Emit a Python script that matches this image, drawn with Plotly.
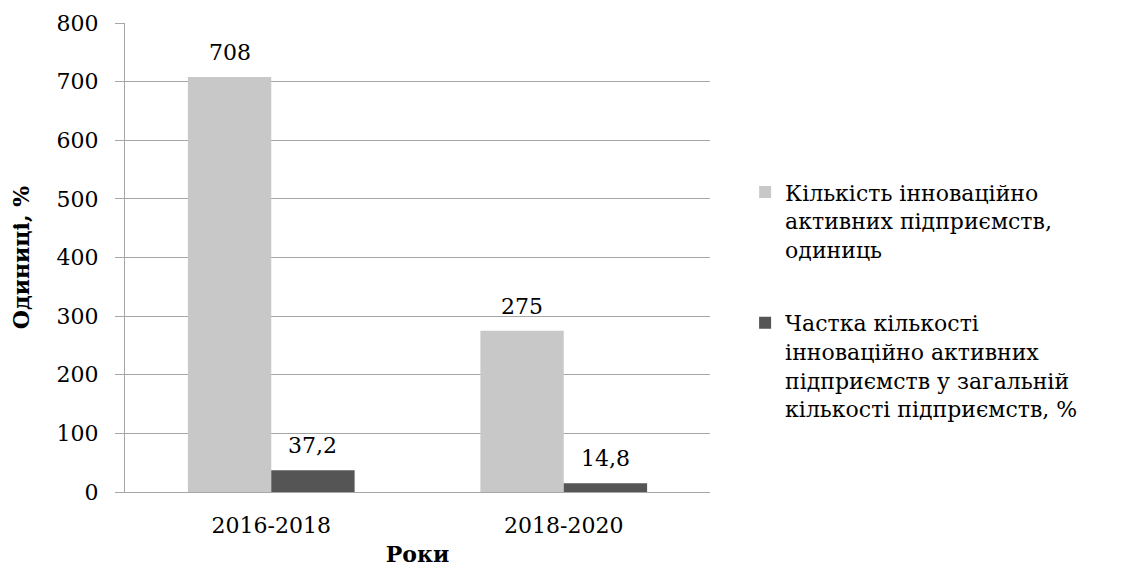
import plotly.graph_objects as go

categories = ["2016-2018", "2018-2020"]
series_names = [
    "Кількість інноваційно<br>активних підприємств,<br>одиниць",
    "Частка кількості<br>інноваційно активних<br>підприємств у загальній<br>кількості підприємств, %",
]
enterprises = [708, 275]
share = [37.2, 14.8]
y_ticks = [0, 100, 200, 300, 400, 500, 600, 700, 800]

colors = ["#c8c8c8", "#555555"]
FONT = "DejaVu Serif"
W, H = 1136, 567
M = dict(l=125, r=426, t=23, b=75)
BARGAP = 0.43

fig = go.Figure()
series = [enterprises, share]
for i, (name, vals) in enumerate(zip(series_names, series)):
    fig.add_trace(go.Bar(
        x=categories, y=vals, name=name,
        marker=dict(color=colors[i], line=dict(width=0)),
        legendgroup=f"g{i}",
    ))

plot_w = W - M["l"] - M["r"]
bar_px = plot_w / len(categories) * (1 - BARGAP) / 2
annotations = []
for i, vals in enumerate(series):
    for j, v in enumerate(vals):
        txt = (f"{v:g}").replace(".", ",")
        annotations.append(dict(
            x=categories[j], y=v, xref="x", yref="y", text=txt,
            showarrow=False, yanchor="bottom", xanchor="center",
            xshift=(i - 0.5) * bar_px, yshift=10,
            font=dict(family=FONT, size=22, color="#000000"),
        ))

fig.update_layout(
    template="none",
    width=W, height=H, margin=M, autosize=False,
    paper_bgcolor="white", plot_bgcolor="white",
    barmode="group", bargap=BARGAP, bargroupgap=0,
    font=dict(family=FONT, size=22, color="#000000"),
    annotations=annotations,
    legend=dict(
        x=1.06, y=0.684, xanchor="left", yanchor="top",
        valign="top", tracegroupgap=42,
        font=dict(family=FONT, size=22, color="#000000"),
        bgcolor="rgba(0,0,0,0)",
    ),
    showlegend=True,
)
fig.update_yaxes(
    automargin=False,
    range=[0, 800], tickvals=y_ticks, ticktext=[str(t) for t in y_ticks],
    showgrid=True, gridcolor="#a6a6a6", gridwidth=1,
    showline=True, linecolor="#a6a6a6", linewidth=1,
    ticks="outside", ticklen=9, tickcolor="#a6a6a6", tickwidth=1,
    ticklabelstandoff=12, zeroline=False,
    tickfont=dict(family=FONT, size=22),
    title=dict(text="<b>Одиниці, %</b>", font=dict(family=FONT, size=22), standoff=20),
)
fig.update_xaxes(
    automargin=False,
    showline=True, linecolor="#a6a6a6", linewidth=1,
    ticks="", ticklabelstandoff=14, showgrid=False,
    tickfont=dict(family=FONT, size=22),
    title=dict(text="<b>Роки</b>", font=dict(family=FONT, size=22), standoff=22),
)

fig.write_html("out.html", config={"displayModeBar": False},
               post_script="document.body.style.margin='0';")
